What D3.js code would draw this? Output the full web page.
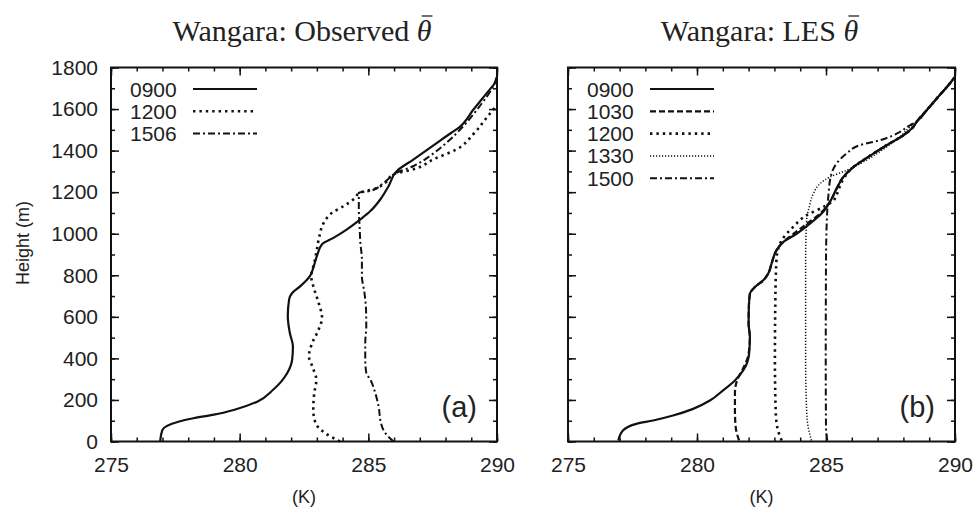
<!DOCTYPE html>
<html>
<head>
<meta charset="utf-8">
<script src="https://cdn.jsdelivr.net/npm/d3@7"></script>
<style>
  body { margin: 0; background: #fff; }
  svg text { fill: #222; }
</style>
</head>
<body>
<div id="chart"></div>
<script>
// theta profiles, [K, height m]
const obs0900 = [[276.91,0],[277.0,56],[277.65,96],[278.2,112],[279.0,129],[279.8,153],[280.7,193],[281.3,249],[281.85,330],[282.04,394],[282.07,458],[281.95,522],[281.87,603],[281.92,683],[282.04,715],[282.36,748],[282.73,796],[282.88,844],[283.0,892],[283.2,949],[283.66,981],[284.17,1021],[284.69,1069],[285.08,1109],[285.47,1166],[285.79,1230],[286.11,1302],[286.76,1358],[287.6,1431],[288.24,1487],[288.44,1503],[289.1,1600],[289.73,1696],[290,1736]];
const obs1200 = [[283.9,0],[283.33,40],[282.95,88],[282.86,153],[282.9,233],[282.98,297],[282.82,362],[282.69,410],[282.82,474],[283.07,539],[283.2,595],[283.07,667],[282.9,732],[282.78,796],[282.9,860],[283.0,924],[283.1,989],[283.27,1053],[283.59,1101],[284.04,1133],[284.43,1166],[284.69,1198],[285.2,1214],[285.66,1246],[285.98,1286],[286.76,1310],[287.53,1358],[288.44,1407],[289.08,1479],[289.6,1559],[290,1620]];
const obs1506 = [[285.98,0],[285.66,40],[285.49,88],[285.4,169],[285.27,233],[285.08,297],[284.92,330],[284.88,394],[284.88,474],[284.92,555],[284.91,635],[284.85,715],[284.75,796],[284.75,876],[284.69,957],[284.66,1037],[284.63,1117],[284.63,1198],[285.08,1206],[285.6,1246],[286.11,1294],[286.76,1326],[287.4,1375],[288.05,1439],[288.7,1519],[289.34,1616],[289.86,1712],[290,1760]];

const les0900 = [[276.95,5],[277.13,53],[277.65,85],[278.3,101],[279.07,125],[279.85,157],[280.5,197],[281.01,246],[281.47,294],[281.79,342],[282.02,422],[282.05,503],[282.0,567],[282.01,647],[282.05,711],[282.24,743],[282.57,776],[282.76,808],[282.89,856],[283.08,920],[283.34,960],[283.86,1000],[284.38,1049],[284.83,1097],[285.15,1153],[285.41,1217],[285.67,1273],[286.06,1321],[286.64,1370],[287.35,1426],[288.0,1474],[288.38,1514],[288.51,1538],[288.9,1594],[289.35,1659],[289.8,1723],[290,1755]];
const les1030 = [[281.63,5],[281.5,69],[281.47,149],[281.47,230],[281.55,294],[281.75,342],[282.0,422],[282.05,503],[282.0,567],[282.01,647],[282.05,711],[282.24,743],[282.57,776],[282.76,808],[282.89,856],[283.08,920],[283.34,960],[283.8,1005],[284.3,1052],[284.8,1100],[285.15,1153],[285.41,1217],[285.67,1273],[286.06,1321],[286.64,1370],[287.35,1426],[288.0,1474],[288.38,1514],[288.51,1538],[288.9,1594],[289.35,1659],[289.8,1723],[290,1755]];
const les1200 = [[283.28,5],[283.11,69],[283.05,149],[283.02,390],[283.04,711],[283.08,872],[283.15,930],[283.28,968],[283.73,1033],[284.25,1089],[284.9,1129],[285.3,1161],[285.5,1217],[285.72,1273],[286.06,1321],[286.64,1370],[287.35,1426],[288.0,1474],[288.38,1514],[288.51,1538],[288.9,1594],[289.35,1659],[289.8,1723],[290,1755]];
const les1330 = [[284.44,5],[284.31,69],[284.25,149],[284.21,390],[284.21,872],[284.25,1065],[284.35,1129],[284.51,1193],[284.77,1241],[285.15,1273],[285.8,1305],[286.57,1354],[287.35,1418],[287.87,1466],[288.25,1514],[288.51,1538],[288.9,1594],[289.35,1659],[289.8,1723],[290,1755]];
const les1500 = [[285.05,5],[285.0,69],[284.99,390],[285.0,872],[285.05,1113],[285.1,1193],[285.18,1273],[285.41,1338],[285.8,1386],[286.31,1426],[287.09,1450],[287.87,1490],[288.25,1522],[288.45,1535],[288.9,1594],[289.35,1659],[289.8,1723],[290,1755]];

const obsLabels = ["0900", "1200", "1506"];
const lesLabels = ["0900", "1030", "1200", "1330", "1500"];
const xTicks = [275, 280, 285, 290];
const yTicks = [0, 200, 400, 600, 800, 1000, 1200, 1400, 1600, 1800];

const W = 977, H = 514;
const svg = d3.select("#chart").append("svg").attr("width", W).attr("height", H);

const yTop = 67.5, yBottom = 441.5;
const panels = [
  { x0: 111, x1: 497, title: "Wangara: Observed ", tag: "(a)", labels: obsLabels,
    series: [obs0900, obs1200, obs1506], styles: ["solid", "dot", "dashdot"], yLabels: true },
  { x0: 568, x1: 955, title: "Wangara: LES ", tag: "(b)", labels: lesLabels,
    series: [les0900, les1030, les1200, les1330, les1500], styles: ["solid", "dash", "dot", "fine", "dashdot"], yLabels: false }
];

const lineStyles = {
  solid:   { w: 2.2, dash: null },
  dash:    { w: 2.2, dash: "6,3" },
  dot:     { w: 2.6, dash: "2.4,4" },
  fine:    { w: 1.5, dash: "1.2,1.8" },
  dashdot: { w: 2.0, dash: "7,3,2,3" }
};

panels.forEach((p) => {
  const x = d3.scaleLinear().domain([275, 290]).range([p.x0, p.x1]);
  const y = d3.scaleLinear().domain([0, 1800]).range([yBottom, yTop]);
  const g = svg.append("g");

  // title; the bar over theta is a short line placed from the glyph box
  const t = g.append("text")
    .attr("x", (p.x0 + p.x1) / 2 - 2)
    .attr("y", 41)
    .attr("text-anchor", "middle")
    .style("font-family", "'Liberation Serif', 'Times New Roman', serif")
    .style("font-size", "30px")
    .text(p.title);
  t.append("tspan").style("font-style", "italic").text("\u03B8");
  const ext = t.node().getExtentOfChar(p.title.length);
  g.append("line")
    .attr("x1", ext.x + 5).attr("x2", ext.x + ext.width + 1)
    .attr("y1", ext.y + 2).attr("y2", ext.y + 2)
    .attr("stroke", "#222").attr("stroke-width", 1.3);

  // minor + major ticks on all four sides, pointing in
  const minorX = d3.range(275, 291, 1);
  const minorY = d3.range(0, 1801, 100);
  const addAxis = (axis, tr) => {
    const a = g.append("g").attr("transform", tr).call(axis);
    a.select(".domain").remove();
    a.selectAll("line").attr("stroke", "#111").attr("stroke-width", 1.5);
    return a;
  };
  addAxis(d3.axisBottom(x).tickValues(minorX).tickSize(-4).tickFormat(""), `translate(0,${yBottom})`);
  addAxis(d3.axisTop(x).tickValues(minorX).tickSize(-4).tickFormat(""), `translate(0,${yTop})`);
  addAxis(d3.axisLeft(y).tickValues(minorY).tickSize(-4).tickFormat(""), `translate(${p.x0},0)`);
  addAxis(d3.axisRight(y).tickValues(minorY).tickSize(-4).tickFormat(""), `translate(${p.x1},0)`);
  addAxis(d3.axisTop(x).tickValues(xTicks).tickSize(-8).tickFormat(""), `translate(0,${yTop})`);
  addAxis(d3.axisRight(y).tickValues(yTicks).tickSize(-8).tickFormat(""), `translate(${p.x1},0)`);

  const xa = addAxis(d3.axisBottom(x).tickValues(xTicks).tickSize(-8).tickPadding(16).tickFormat(d3.format("d")), `translate(0,${yBottom})`);
  xa.selectAll("text").style("font-family", "'Liberation Sans', Arial, sans-serif").style("font-size", "21px").attr("fill", "#222");

  const ya = addAxis(d3.axisLeft(y).tickValues(yTicks).tickSize(-8).tickPadding(13)
    .tickFormat(p.yLabels ? d3.format("d") : ""), `translate(${p.x0},0)`);
  ya.selectAll("text").style("font-family", "'Liberation Sans', Arial, sans-serif").style("font-size", "21px").attr("fill", "#222");

  // frame
  g.append("rect")
    .attr("x", p.x0).attr("y", yTop)
    .attr("width", p.x1 - p.x0).attr("height", yBottom - yTop)
    .attr("fill", "none").attr("stroke", "#111").attr("stroke-width", 2);

  // x label
  g.append("text")
    .attr("x", (p.x0 + p.x1) / 2).attr("y", 503)
    .attr("text-anchor", "middle")
    .style("font-family", "'Liberation Sans', Arial, sans-serif")
    .style("font-size", "18px")
    .text("(K)");

  // curves
  const line = d3.line().x((d) => x(d[0])).y((d) => y(d[1])).curve(d3.curveMonotoneY);
  p.series.forEach((s, i) => {
    const st = lineStyles[p.styles[i]];
    g.append("path")
      .datum(s)
      .attr("d", line)
      .attr("fill", "none")
      .attr("stroke", "#111")
      .attr("stroke-width", st.w)
      .attr("stroke-dasharray", st.dash);
  });

  // legend
  const legX = p.x0 + 19;
  p.labels.forEach((lab, i) => {
    const ly = 89 + i * 22.3;
    const st = lineStyles[p.styles[i]];
    g.append("text")
      .attr("x", legX).attr("y", ly)
      .attr("dy", "0.36em")
      .style("font-family", "'Liberation Sans', Arial, sans-serif")
      .style("font-size", "21px")
      .text(lab);
    g.append("line")
      .attr("x1", legX + 63).attr("x2", legX + 127)
      .attr("y1", ly).attr("y2", ly)
      .attr("stroke", "#111")
      .attr("stroke-width", st.w)
      .attr("stroke-dasharray", st.dash);
  });

  // panel tag
  g.append("text")
    .attr("x", p.x1 - 20).attr("y", 407)
    .attr("dy", "0.36em")
    .attr("text-anchor", "end")
    .style("font-family", "'Liberation Sans', Arial, sans-serif")
    .style("font-size", "29px")
    .text(p.tag);
});

// y label
svg.append("text")
  .attr("transform", "translate(23,243) rotate(-90)")
  .attr("text-anchor", "middle")
  .attr("dy", "0.36em")
  .style("font-family", "'Liberation Sans', Arial, sans-serif")
  .style("font-size", "18px")
  .text("Height (m)");
</script>
</body>
</html>
